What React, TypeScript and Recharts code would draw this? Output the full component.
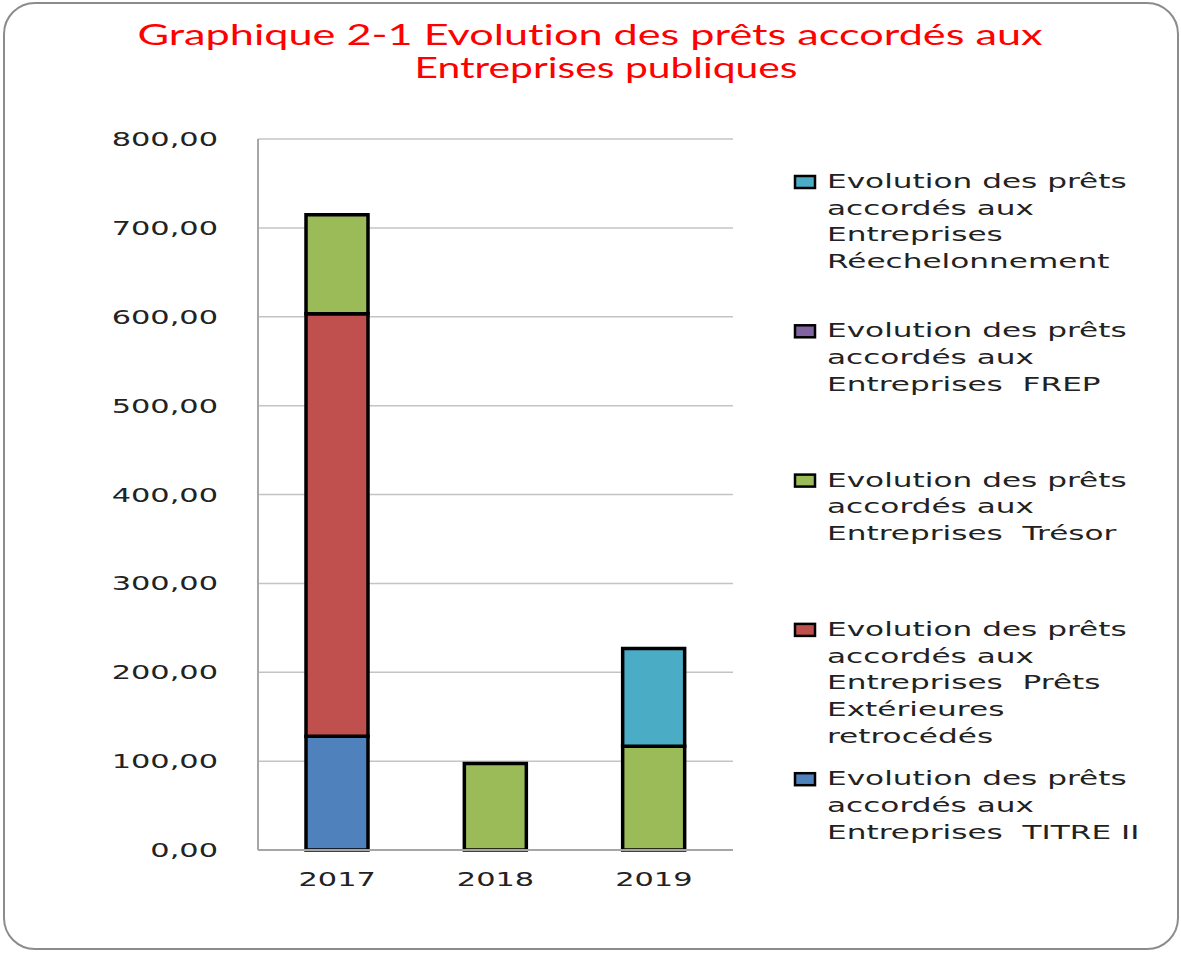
import React from 'react';
import { BarChart, Bar, XAxis, YAxis, CartesianGrid, Legend } from 'recharts';

const categories = ['2017', '2018', '2019'];
const titreII = [128, 0, 0];
const pretsExt = [475.5, 0, 0];
const tresor = [111.3, 97.3, 116.8];
const frep = [0, 0, 0];
const reech = [0, 0, 109.8];
const yTicks = [0, 100, 200, 300, 400, 500, 600, 700, 800];

const titleLines = ['Graphique 2-1 Evolution des prêts accordés aux', 'Entreprises publiques'];

const seriesKeys = ['titreII', 'pretsExt', 'tresor', 'frep', 'reech'];
const seriesNames = [
  'Evolution des prêts accordés aux Entreprises  TITRE II',
  'Evolution des prêts accordés aux Entreprises  Prêts Extérieures retrocédés',
  'Evolution des prêts accordés aux Entreprises  Trésor',
  'Evolution des prêts accordés aux Entreprises  FREP',
  'Evolution des prêts accordés aux Entreprises Réechelonnement',
];
const seriesColors = ['#4F81BD', '#C0504D', '#9BBB59', '#8064A2', '#4BACC6'];
const legendLines: Record<string, string[]> = {
  titreII: ['Evolution des prêts', 'accordés aux', 'Entreprises  TITRE II'],
  pretsExt: ['Evolution des prêts', 'accordés aux', 'Entreprises  Prêts', 'Extérieures', 'retrocédés'],
  tresor: ['Evolution des prêts', 'accordés aux', 'Entreprises  Trésor'],
  frep: ['Evolution des prêts', 'accordés aux', 'Entreprises  FREP'],
  reech: ['Evolution des prêts', 'accordés aux', 'Entreprises', 'Réechelonnement'],
};

const data = categories.map((c, i) => ({
  year: c,
  titreII: titreII[i],
  pretsExt: pretsExt[i],
  tresor: tresor[i],
  frep: frep[i],
  reech: reech[i],
}));

const FONT = 'DejaVu Sans';
const SX = 1.6;

const fmt = (v: number) => v.toFixed(2).replace('.', ',');

const YTick = (props: any) => {
  const { x, y, payload } = props;
  return (
    <text
      transform={`translate(${x}, ${y + 7}) scale(${SX},1)`}
      textAnchor="end"
      fontFamily={FONT}
      fontSize={19}
      fill="#222"
    >
      {fmt(payload.value)}
    </text>
  );
};

const XTick = (props: any) => {
  const { x, y, payload } = props;
  return (
    <text
      transform={`translate(${x}, ${y + 36}) scale(${SX},1)`}
      textAnchor="middle"
      fontFamily={FONT}
      fontSize={19}
      fill="#222"
    >
      {payload.value}
    </text>
  );
};

const LegendContent = () => {
  const order = [...seriesKeys].reverse();
  return (
    <svg width={390} height={700} style={{ display: 'block' }}>
      {order.map((key, i) => {
        const idx = seriesKeys.indexOf(key);
        const base = 28 + i * 149.3;
        return (
          <g key={key}>
            <rect x={6} y={base - 12} width={20} height={12} fill={seriesColors[idx]} stroke="#000" strokeWidth={2.5} />
            {legendLines[key].map((line, j) => (
              <text
                key={j}
                transform={`translate(38, ${base + j * 26.7}) scale(1.64,1)`}
                fontFamily={FONT}
                fontSize={19}
                fill="#222"
                style={{ whiteSpace: 'pre' }}
              >
                {line}
              </text>
            ))}
          </g>
        );
      })}
    </svg>
  );
};

export default function App() {
  return (
    <div style={{ position: 'absolute', left: 0, top: 0, width: 1181, height: 953, background: '#fff' }}>
      <div
        style={{
          position: 'absolute',
          left: 3,
          top: 2,
          width: 1172,
          height: 944,
          border: '2px solid #8c8c8c',
          borderRadius: 32,
        }}
      />
      <svg width={1181} height={100} style={{ position: 'absolute', left: 0, top: 0 }}>
        <text x={590} y={45} textAnchor="middle" fontFamily="Lato" fontSize={28} fill="#FF0000" textLength={905} lengthAdjust="spacingAndGlyphs" style={{ fontVariantLigatures: 'none' }}>
          {titleLines[0]}
        </text>
        <text x={606} y={78} textAnchor="middle" fontFamily="Lato" fontSize={28} fill="#FF0000" textLength={383} lengthAdjust="spacingAndGlyphs" style={{ fontVariantLigatures: 'none' }}>
          {titleLines[1]}
        </text>
      </svg>
      <div style={{ position: 'absolute', left: 0, top: 0 }}>
        <BarChart
          width={1181}
          height={953}
          data={data}
          margin={{ top: 139, right: 58, bottom: 0, left: 0 }}
        >
          <CartesianGrid vertical={false} stroke="#c4c4c4" strokeWidth={1.5} />
          <XAxis
            dataKey="year"
            tick={<XTick />}
            tickLine={false}
            tickSize={0}
            tickMargin={0}
            axisLine={{ stroke: '#a6a6a6', strokeWidth: 2 }}
            height={103}
          />
          <YAxis
            domain={[0, 800]}
            ticks={yTicks}
            tick={<YTick />}
            tickLine={false}
            tickSize={0}
            tickMargin={40}
            axisLine={{ stroke: '#a6a6a6', strokeWidth: 2 }}
            width={258}
            interval={0}
          />
          <Legend
            content={<LegendContent />}
            layout="vertical"
            align="right"
            verticalAlign="top"
            width={390}
            wrapperStyle={{ position: 'absolute', left: 789, top: 160, width: 390 }}
          />
          {seriesKeys.map((k, i) => (
            <Bar
              key={k}
              dataKey={k}
              name={seriesNames[i]}
              stackId="a"
              fill={seriesColors[i]}
              stroke="#000"
              strokeWidth={3.5}
              barSize={62}
              isAnimationActive={false}
            />
          ))}
        </BarChart>
      </div>
    </div>
  );
}
